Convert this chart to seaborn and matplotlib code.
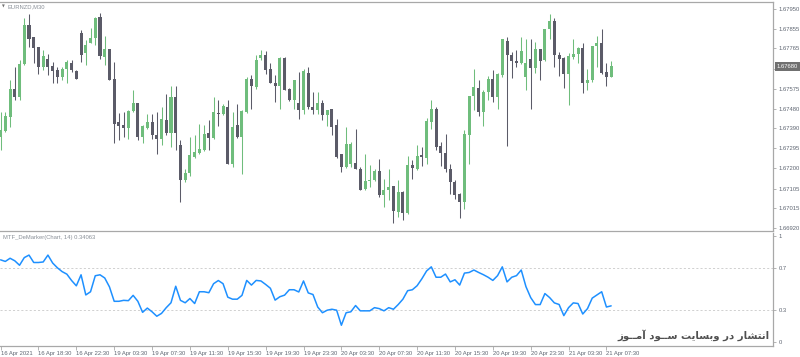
import numpy as np
import pandas as pd
import matplotlib
matplotlib.use("Agg")
import matplotlib.pyplot as plt
import matplotlib.transforms as mtransforms
import seaborn as sns

# ---------------- data ----------------
symbol = "EURNZD,M30"
ind_name = "MTF_DeMarker(Chart, 14) 0.34063"
watermark = "انتشار در وبسایت ســود آمــوز"

opens = [1.67348, 1.67377, 1.67443, 1.67573, 1.67534, 1.67691, 1.67874, 1.67819, 1.67772, 1.67678,
         1.67716, 1.67681, 1.67662, 1.67631, 1.67670, 1.67697, 1.67659, 1.67838, 1.67744, 1.67791,
         1.67815, 1.67913, 1.67725, 1.67764, 1.67621, 1.67419, 1.67403, 1.67391, 1.67469, 1.67508,
         1.67348, 1.67391, 1.67419, 1.67356, 1.67340, 1.67427, 1.67367, 1.67537, 1.67309, 1.67144,
         1.67179, 1.67254, 1.67273, 1.67286, 1.67367, 1.67344, 1.67458, 1.67458, 1.67487, 1.67223,
         1.67403, 1.67348, 1.67466, 1.67620, 1.67584, 1.67720, 1.67733, 1.67667, 1.67603, 1.67587,
         1.67720, 1.67576, 1.67521, 1.67508, 1.67477, 1.67650, 1.67487, 1.67474, 1.67508, 1.67450,
         1.67482, 1.67403, 1.67267, 1.67207, 1.67223, 1.67227, 1.67199, 1.67102, 1.67139, 1.67144,
         1.67187, 1.67077, 1.67097, 1.67116, 1.66995, 1.67089, 1.66990, 1.67215, 1.67199, 1.67262,
         1.67249, 1.67419, 1.67482, 1.67306, 1.67275, 1.67199, 1.67136, 1.67081, 1.67042, 1.67356,
         1.67540, 1.67579, 1.67466, 1.67560, 1.67620, 1.67534, 1.67639, 1.67799, 1.67733, 1.67705,
         1.67694, 1.67631, 1.67717, 1.67673, 1.67761, 1.67709, 1.67854, 1.67895, 1.67733, 1.67720,
         1.67643, 1.67725, 1.67738, 1.67767, 1.67600, 1.67615, 1.67775, 1.67788, 1.67654, 1.67631]
highs = [1.67466, 1.67466, 1.67615, 1.67678, 1.67709, 1.67906, 1.67926, 1.67819, 1.67772, 1.67757,
         1.67738, 1.67701, 1.67678, 1.67678, 1.67709, 1.67709, 1.67662, 1.67851, 1.67804, 1.67859,
         1.67913, 1.67929, 1.67822, 1.67764, 1.67701, 1.67461, 1.67466, 1.67474, 1.67568, 1.67508,
         1.67403, 1.67458, 1.67458, 1.67466, 1.67490, 1.67552, 1.67587, 1.67587, 1.67336, 1.67199,
         1.67348, 1.67356, 1.67408, 1.67403, 1.67427, 1.67537, 1.67521, 1.67502, 1.67521, 1.67466,
         1.67505, 1.67474, 1.67631, 1.67639, 1.67733, 1.67757, 1.67753, 1.67694, 1.67639, 1.67725,
         1.67725, 1.67579, 1.67618, 1.67654, 1.67670, 1.67678, 1.67560, 1.67560, 1.67521, 1.67477,
         1.67482, 1.67435, 1.67270, 1.67395, 1.67325, 1.67387, 1.67207, 1.67270, 1.67215, 1.67199,
         1.67246, 1.67152, 1.67199, 1.67119, 1.67144, 1.67094, 1.67257, 1.67241, 1.67309, 1.67301,
         1.67439, 1.67524, 1.67490, 1.67325, 1.67361, 1.67223, 1.67144, 1.67085, 1.67380, 1.67540,
         1.67670, 1.67615, 1.67568, 1.67634, 1.67662, 1.67650, 1.67810, 1.67819, 1.67749, 1.67757,
         1.67819, 1.67807, 1.67811, 1.67796, 1.67764, 1.67857, 1.67926, 1.67906, 1.67749, 1.67725,
         1.67744, 1.67811, 1.67772, 1.67791, 1.67670, 1.67778, 1.67824, 1.67854, 1.67697, 1.67705]
lows = [1.67286, 1.67372, 1.67395, 1.67521, 1.67521, 1.67686, 1.67772, 1.67697, 1.67643, 1.67662,
        1.67639, 1.67603, 1.67604, 1.67615, 1.67603, 1.67654, 1.67620, 1.67701, 1.67686, 1.67788,
        1.67780, 1.67717, 1.67686, 1.67615, 1.67320, 1.67333, 1.67348, 1.67340, 1.67466, 1.67333,
        1.67320, 1.67387, 1.67340, 1.67267, 1.67309, 1.67356, 1.67301, 1.67286, 1.67042, 1.67136,
        1.67163, 1.67251, 1.67270, 1.67282, 1.67286, 1.67340, 1.67398, 1.67450, 1.67220, 1.67207,
        1.67345, 1.67176, 1.67463, 1.67482, 1.67576, 1.67712, 1.67643, 1.67600, 1.67513, 1.67482,
        1.67568, 1.67518, 1.67482, 1.67431, 1.67458, 1.67482, 1.67455, 1.67458, 1.67430, 1.67398,
        1.67356, 1.67251, 1.67183, 1.67204, 1.67207, 1.67196, 1.67097, 1.67099, 1.67113, 1.67141,
        1.67066, 1.67019, 1.67050, 1.66943, 1.66971, 1.66956, 1.66984, 1.67152, 1.67194, 1.67212,
        1.67223, 1.67387, 1.67289, 1.67212, 1.67183, 1.67081, 1.67055, 1.66968, 1.67011, 1.67223,
        1.67474, 1.67446, 1.67398, 1.67521, 1.67513, 1.67482, 1.67631, 1.67306, 1.67626, 1.67678,
        1.67691, 1.67571, 1.67482, 1.67647, 1.67615, 1.67706, 1.67811, 1.67678, 1.67634, 1.67579,
        1.67497, 1.67717, 1.67694, 1.67555, 1.67568, 1.67607, 1.67678, 1.67643, 1.67587, 1.67628]
closes = [1.67380, 1.67446, 1.67573, 1.67534, 1.67691, 1.67874, 1.67811, 1.67768, 1.67678, 1.67728,
          1.67678, 1.67659, 1.67631, 1.67670, 1.67700, 1.67662, 1.67623, 1.67733, 1.67780, 1.67813,
          1.67909, 1.67728, 1.67764, 1.67618, 1.67411, 1.67398, 1.67391, 1.67469, 1.67508, 1.67348,
          1.67398, 1.67419, 1.67356, 1.67340, 1.67431, 1.67367, 1.67537, 1.67367, 1.67144, 1.67180,
          1.67262, 1.67278, 1.67290, 1.67364, 1.67344, 1.67466, 1.67457, 1.67493, 1.67223, 1.67395,
          1.67348, 1.67469, 1.67620, 1.67587, 1.67709, 1.67736, 1.67662, 1.67603, 1.67587, 1.67720,
          1.67571, 1.67521, 1.67615, 1.67477, 1.67659, 1.67487, 1.67474, 1.67508, 1.67450, 1.67474,
          1.67395, 1.67254, 1.67207, 1.67314, 1.67317, 1.67199, 1.67100, 1.67139, 1.67144, 1.67187,
          1.67077, 1.67097, 1.67113, 1.66998, 1.67089, 1.66992, 1.67215, 1.67204, 1.67259, 1.67254,
          1.67422, 1.67482, 1.67301, 1.67275, 1.67196, 1.67136, 1.67074, 1.67042, 1.67361, 1.67540,
          1.67584, 1.67466, 1.67560, 1.67620, 1.67534, 1.67643, 1.67807, 1.67733, 1.67705, 1.67697,
          1.67752, 1.67694, 1.67673, 1.67761, 1.67706, 1.67854, 1.67895, 1.67733, 1.67717, 1.67643,
          1.67728, 1.67738, 1.67767, 1.67603, 1.67615, 1.67775, 1.67788, 1.67647, 1.67628, 1.67680]
demarker = [0.775, 0.760, 0.790, 0.766, 0.724, 0.796, 0.820, 0.750, 0.750, 0.755,
            0.820, 0.745, 0.700, 0.664, 0.640, 0.580, 0.530, 0.634, 0.444, 0.474,
            0.625, 0.634, 0.604, 0.520, 0.384, 0.384, 0.393, 0.390, 0.440, 0.384,
            0.280, 0.320, 0.285, 0.243, 0.270, 0.324, 0.370, 0.526, 0.393, 0.370,
            0.410, 0.363, 0.474, 0.474, 0.465, 0.550, 0.580, 0.550, 0.423, 0.404,
            0.404, 0.440, 0.581, 0.537, 0.581, 0.576, 0.543, 0.507, 0.395, 0.427,
            0.442, 0.493, 0.493, 0.472, 0.576, 0.463, 0.448, 0.330, 0.276, 0.300,
            0.309, 0.300, 0.158, 0.276, 0.285, 0.344, 0.294, 0.294, 0.294, 0.324,
            0.315, 0.294, 0.324, 0.309, 0.353, 0.404, 0.484, 0.493, 0.531, 0.596,
            0.670, 0.709, 0.611, 0.611, 0.641, 0.567, 0.587, 0.537, 0.650, 0.656,
            0.679, 0.656, 0.635, 0.611, 0.581, 0.626, 0.709, 0.567, 0.611, 0.626,
            0.679, 0.522, 0.419, 0.353, 0.353, 0.457, 0.419, 0.369, 0.354, 0.249,
            0.324, 0.369, 0.363, 0.264, 0.315, 0.414, 0.444, 0.474, 0.330, 0.341]
time_labels = ["16 Apr 2021", "16 Apr 18:30", "16 Apr 22:30", "19 Apr 03:30", "19 Apr 07:30",
               "19 Apr 11:30", "19 Apr 15:30", "19 Apr 19:30", "19 Apr 23:30", "20 Apr 03:30",
               "20 Apr 07:30", "20 Apr 11:30", "20 Apr 15:30", "20 Apr 19:30", "20 Apr 23:30",
               "21 Apr 03:30", "21 Apr 07:30"]
price_ticks = [1.67950, 1.67855, 1.67765, 1.67670, 1.67575, 1.67480, 1.67390,
               1.67295, 1.67200, 1.67105, 1.67015, 1.66920]
# the 1.67670 label is hidden behind the current-price box in the reference
price_tick_labels = ["1.67950", "1.67855", "1.67765", "", "1.67575", "1.67480", "1.67390",
                     "1.67295", "1.67200", "1.67105", "1.67015", "1.66920"]
ind_ticks = [0, 0.3, 0.7, 1]
ind_tick_labels = ["0", "0.3", "0.7", "1"]

# ---------------- Persian shaping (presentation forms, visual order) ----------------
DUAL = set("بتثجحخسشصضطظعغفقکگلمنهیئپچـ")
RIGHT = set("اآأإدذرزژو")
FORMS = {
    "ا": ("\uFE8D", "\uFE8E", None, None),
    "آ": ("\uFE81", "\uFE82", None, None),
    "ب": ("\uFE8F", "\uFE90", "\uFE91", "\uFE92"),
    "ت": ("\uFE95", "\uFE96", "\uFE97", "\uFE98"),
    "د": ("\uFEA9", "\uFEAA", None, None),
    "ر": ("\uFEAD", "\uFEAE", None, None),
    "ز": ("\uFEAF", "\uFEB0", None, None),
    "س": ("\uFEB1", "\uFEB2", "\uFEB3", "\uFEB4"),
    "ش": ("\uFEB5", "\uFEB6", "\uFEB7", "\uFEB8"),
    "م": ("\uFEE1", "\uFEE2", "\uFEE3", "\uFEE4"),
    "ن": ("\uFEE5", "\uFEE6", "\uFEE7", "\uFEE8"),
    "و": ("\uFEED", "\uFEEE", None, None),
    "ی": ("\uFBFC", "\uFBFD", "\uFEF3", "\uFEF4"),
}


def shape_rtl(s):
    out = []
    for k, ch in enumerate(s):
        if ch not in FORMS:
            out.append(ch)
            continue
        prev = s[k - 1] if k > 0 else ""
        nxt = s[k + 1] if k + 1 < len(s) else ""
        jp = prev in DUAL
        jn = ch in DUAL and (nxt in DUAL or nxt in RIGHT)
        iso, fin, ini, med = FORMS[ch]
        if jp and jn:
            out.append(med)
        elif jp:
            out.append(fin)
        elif jn:
            out.append(ini)
        else:
            out.append(iso)
    return "".join(reversed(out))


# ---------------- style ----------------
sns.set_style("white")
plt.rcParams["font.family"] = ["Liberation Sans", "DejaVu Sans"]

W, H = 800, 357
fig = plt.figure(figsize=(W / 100, H / 100), dpi=100)
fig.patch.set_facecolor("white")


def fy(py):
    return 1 - py / H


AXC = "#a8a8a8"
TXT = "#5f6672"
FS = 4.2
BULL = "#6fbd7c"
BEAR = "#5b5b68"

ax = fig.add_axes([0, fy(231), 773 / W, (231 - 2) / H])
ax2 = fig.add_axes([0, fy(346), 773 / W, (346 - 233) / H])

n = len(closes)
idx = np.arange(n)
o = np.array(opens); c = np.array(closes); h = np.array(highs); l = np.array(lows)
up = c >= o
cols = np.where(up, BULL, BEAR)
ax.vlines(idx, l, h, colors=cols, linewidth=0.75, zorder=2)
body_lo = np.minimum(o, c)
body_h = np.maximum(np.abs(c - o), 0.000025)
ax.bar(idx, body_h, bottom=body_lo, width=0.64, color=cols, linewidth=0, zorder=3)

slope = (price_ticks[0] - price_ticks[-1]) / (228 - 9)
ax.set_ylim(price_ticks[-1] - (231 - 228) * slope, price_ticks[0] + (9 - 2) * slope)
xl = (-0.6 / 4.733, (773 - 0.6) / 4.733)
ax.set_xlim(*xl)
ax.set_xticks([])
ax.yaxis.tick_right()
ax.set_yticks(price_ticks)
ax.set_yticklabels(price_tick_labels)
ax.tick_params(axis="y", which="both", right=True, length=2.5, width=0.6, color=AXC,
               labelsize=FS, labelcolor=TXT, pad=1.5)
ax.spines["left"].set_visible(False)
for side in ["top", "bottom", "right"]:
    ax.spines[side].set_color(AXC)
    ax.spines[side].set_linewidth(0.9)

# current price box
tr = mtransforms.blended_transform_factory(ax.transAxes, ax.transData)
ax.text(1 + 4 / 773, closes[-1], f"{closes[-1]:.5f}", transform=tr, fontsize=FS, color="white",
        va="center", ha="left", zorder=10, clip_on=False,
        bbox=dict(boxstyle="square,pad=0.35", fc="#707070", ec="none"))

# indicator
df = pd.DataFrame({"bar": idx, "demarker": demarker})
sns.lineplot(data=df, x="bar", y="demarker", ax=ax2, color="#1e90ff", linewidth=1.1)
for lv in (0.7, 0.3):
    ax2.axhline(lv, color="#c9c9c9", linewidth=0.6, linestyle=(0, (2.5, 2.5)), zorder=0)
ax2.set_xlim(*xl)
ax2.set_ylim(-4 / 106, 1 + 3 / 106)
ax2.set_xlabel("")
ax2.set_ylabel("")
ax2.yaxis.tick_right()
ax2.set_yticks(ind_ticks)
ax2.set_yticklabels(ind_tick_labels)
ax2.set_xticks(np.arange(0, 8 * len(time_labels), 8))
ax2.set_xticklabels(time_labels, ha="left")
ax2.tick_params(axis="y", right=True, length=2.5, width=0.6, color=AXC, labelsize=FS,
                labelcolor=TXT, pad=1.5)
ax2.tick_params(axis="x", bottom=True, length=3, width=0.6, color=AXC, labelsize=FS,
                labelcolor=TXT, pad=0.8)
ax2.spines["left"].set_visible(False)
ax2.spines["top"].set_visible(False)
for side in ["bottom", "right"]:
    ax2.spines[side].set_color(AXC)
    ax2.spines[side].set_linewidth(0.9)

# texts
fig.text(2 / W, fy(6), "▼", fontsize=2.6, color="#707070", va="center", ha="left",
         family="DejaVu Sans")
fig.text(8 / W, fy(6.5), symbol, fontsize=FS, color="#8a9098", va="center", ha="left")
fig.text(3 / W, fy(237.5), ind_name, fontsize=FS, color="#8a9098", va="center", ha="left")
fig.text(770 / W, fy(335), shape_rtl(watermark), fontsize=7.3, color="#505050",
         fontweight="bold", family="DejaVu Sans", va="center", ha="right")

fig.savefig("out.png", dpi=100, facecolor="white")
